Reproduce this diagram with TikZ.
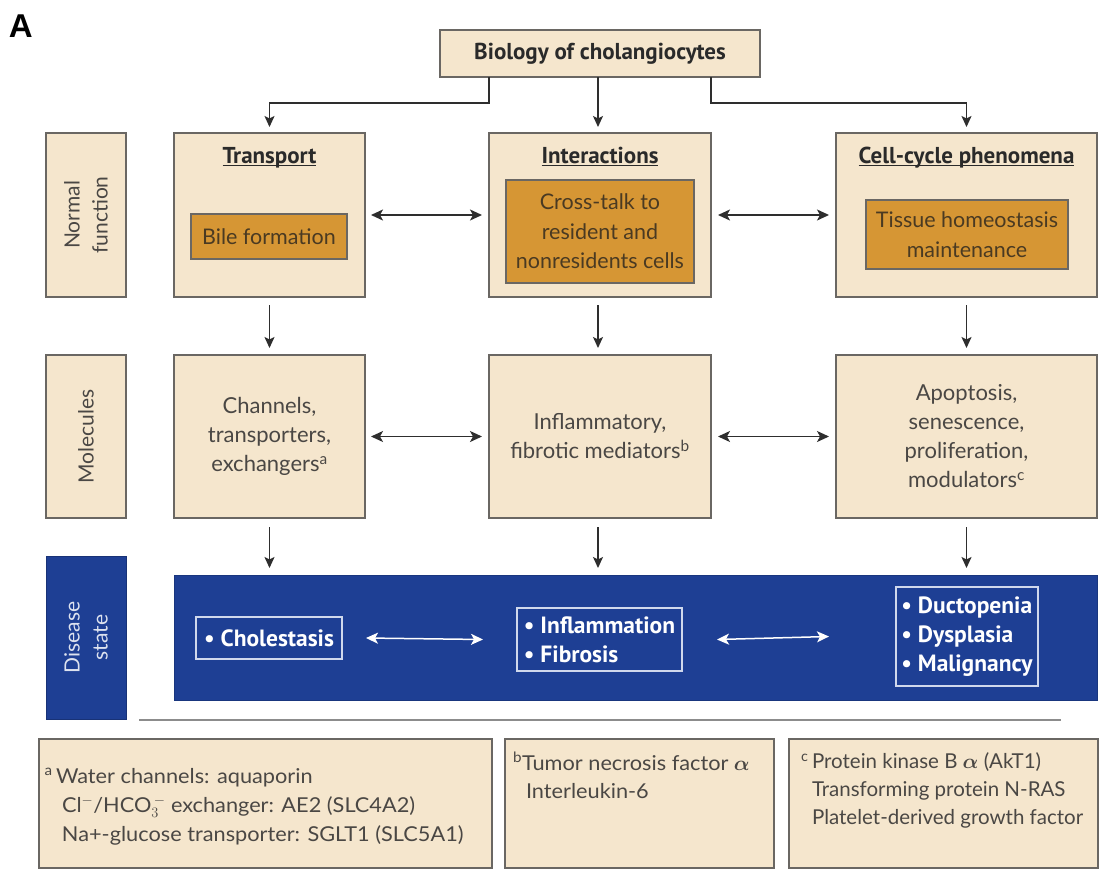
\documentclass[tikz,border=0pt]{standalone}
\usepackage{fontspec}
\usepackage{bm}
\setmainfont{Lato}
\newfontfamily\dinfont{PT Sans}
\newfontfamily\fnfont[FakeStretch=1.06]{Lato}
\newfontfamily\arialfont{Liberation Sans}
\usetikzlibrary{arrows.meta,calc}
\definecolor{beige}{HTML}{F5E6CD}
\definecolor{bord}{HTML}{6A6763}
\definecolor{orng}{HTML}{D69634}
\definecolor{dblue}{HTML}{1E3F94}
\definecolor{txt}{HTML}{4A4744}
\definecolor{otxt}{HTML}{4A3A22}
\definecolor{ttxt}{HTML}{2A2A2A}
\definecolor{ac}{HTML}{2E2E2E}
\definecolor{ibord}{HTML}{D0D8EC}
\definecolor{rulec}{HTML}{8C8C8C}
\begin{document}
\begin{tikzpicture}[x=1pt,y=-1pt,
  every node/.style={inner sep=0pt, outer sep=0pt},
  panel/.style={draw=bord, line width=1.5pt, fill=beige},
  ora/.style={draw=bord, line width=1.3pt, fill=orng, text=otxt, align=center, font=\fontsize{21.5}{29.5}\selectfont},
  body/.style={text=txt, align=center, font=\fontsize{22}{29}\selectfont},
  ttl/.style={text=ttxt, font=\dinfont\bfseries\fontsize{23}{26}\selectfont},
  lbl/.style={text=txt, align=center, font=\fontsize{21}{28}\selectfont},
  ibox/.style={draw=ibord, line width=1.3pt, text=white, align=left, font=\dinfont\bfseries\fontsize{23.5}{29}\selectfont},
  fn/.style={text=txt, align=left, font=\fnfont\fontsize{20.5}{28}\selectfont},
  fnc/.style={text=txt, align=left, font=\fontsize{20.5}{28}\selectfont},
  arr/.style={draw=ac, line width=1.5pt, -{Stealth[length=11pt,width=10pt,inset=2.5pt]}},
  darr/.style={draw=ac, line width=1.5pt, {Stealth[length=12pt,width=11pt,inset=3pt]}-{Stealth[length=12pt,width=11pt,inset=3pt]}},
  warr/.style={draw=white, line width=1.5pt, {Stealth[length=12pt,width=11pt,inset=3pt]}-{Stealth[length=12pt,width=11pt,inset=3pt]}}
]
\useasboundingbox (0,0) rectangle (1110,870);
\fill[white] (0,0) rectangle (1110,870);

% panel label
\node[anchor=north west, font=\arialfont\bfseries\fontsize{33}{33}\selectfont] (lblA) at (9,15) {A};

% top box
\node[panel, ttl, minimum width=320pt, minimum height=47pt] (top) at (600,53.5) {Biology of cholangiocytes};

% row labels
\node[panel, lbl, rotate=90, minimum width=164pt, minimum height=80pt] (lnf) at (86,215) {Normal\\function};
\node[panel, lbl, rotate=90, minimum width=163pt, minimum height=80pt] (lmo) at (86,436.5) {Molecules};
\node[draw=dblue!80!black, line width=1pt, fill=dblue, lbl, text=white!85!dblue, rotate=90, minimum width=163pt, minimum height=80pt] (lds) at (86,637.5) {Disease\\state};

% row 1
\node[panel, minimum width=191pt, minimum height=164pt] (tr) at (269.5,215) {};
\node[ttl, anchor=base] (trT) at (269.5,163) {Transport};
\node[ora, minimum width=156pt, minimum height=45pt] (trO) at (269,236.5) {Bile formation};

\node[panel, minimum width=222pt, minimum height=164pt] (in) at (600,215) {};
\node[ttl, anchor=base] (inT) at (600,163) {Interactions};
\node[ora, minimum width=188pt, minimum height=103pt] (inO) at (600,231.5) {Cross-talk to\\resident and\\nonresidents cells};

\node[panel, minimum width=261pt, minimum height=164pt] (cc) at (966.5,215) {};
\node[ttl, anchor=base] (ccT) at (966.5,163) {Cell-cycle phenomena};
\node[ora, minimum width=202pt, minimum height=69pt] (ccO) at (967,234.5) {Tissue homeostasis\\maintenance};

\foreach \n in {trT,inT,ccT}
  \draw[ttxt, line width=1.3pt] ([yshift=-2.5pt]\n.base west) -- ([yshift=-2.5pt]\n.base east);

% row 2
\node[panel, body, minimum width=191pt, minimum height=163pt] (tm) at (269.5,436.5) {Channels,\\transporters,\\exchangers\textsuperscript{a}};
\node[panel, body, minimum width=222pt, minimum height=163pt] (im) at (600,436.5) {Inflammatory,\\fibrotic mediators\textsuperscript{b}};
\node[panel, body, minimum width=261pt, minimum height=163pt] (cm) at (966.5,436.5) {Apoptosis,\\senescence,\\proliferation,\\modulators\textsuperscript{c}};

% row 3
\node[draw=dblue!85!black, line width=1pt, fill=dblue, minimum width=923pt, minimum height=125pt] (band) at (635.5,637.5) {};
\node[ibox, minimum width=146pt, minimum height=42pt] (ch) at (269,638) {• Cholestasis};
\node[ibox, minimum width=165pt, minimum height=63pt] (ifb) at (599.5,639.5) {• Inflammation\\• Fibrosis};
\node[ibox, minimum width=142pt, minimum height=99pt] (du) at (967,636.5) {• Ductopenia\\• Dysplasia\\• Malignancy};

% arrows from top
\draw[arr] ([xshift=-111pt]top.south) -- ++(0,26) -| ([yshift=6pt]tr.north);
\draw[arr] ([xshift=-2pt]top.south) -- ([xshift=-2pt,yshift=6pt]in.north);
\draw[arr] ([xshift=111pt]top.south) -- ++(0,26) -| ([yshift=6pt]cc.north);

% horizontal double arrows
\draw[darr] ([xshift=6pt]tr.east) -- ([xshift=-7pt]in.west);
\draw[darr] ([xshift=7pt]in.east) -- ([xshift=-7pt]cc.west);
\draw[darr] ([xshift=6pt]tm.east) -- ([xshift=-7pt]im.west);
\draw[darr] ([xshift=7pt]im.east) -- ([xshift=-7pt]cm.west);
\draw[warr] ([xshift=24pt]ch.east) -- ([xshift=-34pt]ifb.west);
\draw[warr] ([xshift=35pt]ifb.east) -- ([xshift=-67pt]du.west);

% vertical arrows
\draw[arr] ([yshift=-8pt]tr.south) -- ([yshift=7pt]tm.north);
\draw[arr] ([xshift=-2pt,yshift=-8pt]in.south) -- ([xshift=-2pt,yshift=7pt]im.north);
\draw[arr] ([yshift=-8pt]cc.south) -- ([yshift=7pt]cm.north);
\draw[arr] ([yshift=-9pt]tm.south) -- ($(band.north -| tm.south)+(0,-7)$);
\draw[arr] ([xshift=-2pt,yshift=-9pt]im.south) -- ($(band.north -| im.south)+(-2,-7)$);
\draw[arr] ([yshift=-9pt]cm.south) -- ($(band.north -| cm.south)+(0,-7)$);

% separator rule
\draw[rulec, line width=2pt] (139,720) -- (1061,720);

% footnotes
\node[panel, minimum width=453pt, minimum height=129pt] (fa) at (265.5,803.5) {};
\node[panel, minimum width=269pt, minimum height=129pt] (fb) at (639.5,803.5) {};
\node[panel, minimum width=309pt, minimum height=129pt] (fc) at (943.5,803.5) {};
\node[fn, anchor=north west, font=\fnfont\fontsize{20.5}{29}\selectfont] (fat) at (56,768) {\llap{\textsuperscript{a}\,}Water channels: aquaporin\\\hspace*{6pt}Cl$^-$/HCO$_3^{\,-}$ exchanger: AE2 (SLC4A2)\\\hspace*{6pt}Na+-glucose transporter: SGLT1 (SLC5A1)};
\node[fn, anchor=north west] (fbt) at (513,752) {\textsuperscript{b}Tumor necrosis factor $\bm{\alpha}$\\\hspace*{13pt}Interleukin-6};
\node[fnc, anchor=north west] (fct) at (812,753) {\llap{\textsuperscript{c}\,}Protein kinase B $\bm{\alpha}$ (AkT1)\\Transforming protein N-RAS\\Platelet-derived growth factor};
\end{tikzpicture}
\end{document}
